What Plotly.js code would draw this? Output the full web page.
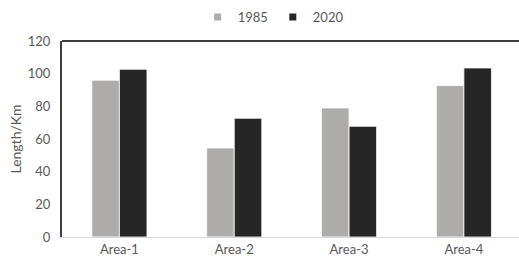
<!DOCTYPE html>
<html>
<head>
<meta charset="utf-8">
<script src="https://cdn.plot.ly/plotly-3.0.1.min.js"></script>
<style>html,body{margin:0;padding:0;background:#fff;}#chart{width:519px;height:261px;}</style>
</head>
<body>
<div id="chart"></div>
<script>
const categories = ["Area-1", "Area-2", "Area-3", "Area-4"];
const values1985 = [96, 54.5, 79, 92.7];
const values2020 = [102.7, 72.7, 67.8, 103.5];
const seriesNames = ["1985", "2020"];
const seriesColors = ["#AEABAB", "#262626"];
const yTicks = [0, 20, 40, 60, 80, 100, 120];

const font = {family: "Lato, 'Open Sans', sans-serif", size: 13, color: "#595959"};

const traces = [
  {type: "bar", name: seriesNames[0], x: categories, y: values1985, showlegend: false,
   marker: {color: seriesColors[0], line: {color: "#ffffff", width: 0.8}}},
  {type: "bar", name: seriesNames[1], x: categories, y: values2020, showlegend: false,
   marker: {color: seriesColors[1], line: {color: "#ffffff", width: 0.8}}},
  {type: "scatter", mode: "markers", name: seriesNames[0], x: [null], y: [null],
   marker: {symbol: "square", size: 7, color: seriesColors[0]}},
  {type: "scatter", mode: "markers", name: seriesNames[1], x: [null], y: [null],
   marker: {symbol: "square", size: 7, color: seriesColors[1]}}
];

const layout = {
  width: 519, height: 261,
  margin: {l: 62, r: 0, t: 41, b: 24},
  paper_bgcolor: "#fff", plot_bgcolor: "#fff",
  font: font,
  barmode: "group",
  bargap: 0.52, bargroupgap: 0,
  showlegend: true,
  legend: {orientation: "h", x: 0.462, xanchor: "center", y: 1.122, yanchor: "middle",
           font: font, itemwidth: 30, tracegroupgap: 0},
  xaxis: {type: "category", range: [-0.5, 3.48], showline: true, linecolor: "#D9D9D9", linewidth: 1,
          ticks: "", showgrid: false, zeroline: false, tickfont: font},
  yaxis: {range: [0, 120], tickvals: yTicks, showline: true, linecolor: "#404040", linewidth: 2,
          ticks: "", showgrid: false, zeroline: false, tickfont: font, ticklabelstandoff: 7,
          title: {text: "Length/Km", font: Object.assign({}, font, {size: 14}), standoff: 3}},
  shapes: [{type: "line", xref: "paper", yref: "paper", x0: 0, x1: 1, y0: 1, y1: 1,
            line: {color: "#404040", width: 2}}]
};

Plotly.newPlot("chart", traces, layout, {displayModeBar: false, staticPlot: true});
</script>
</body>
</html>
